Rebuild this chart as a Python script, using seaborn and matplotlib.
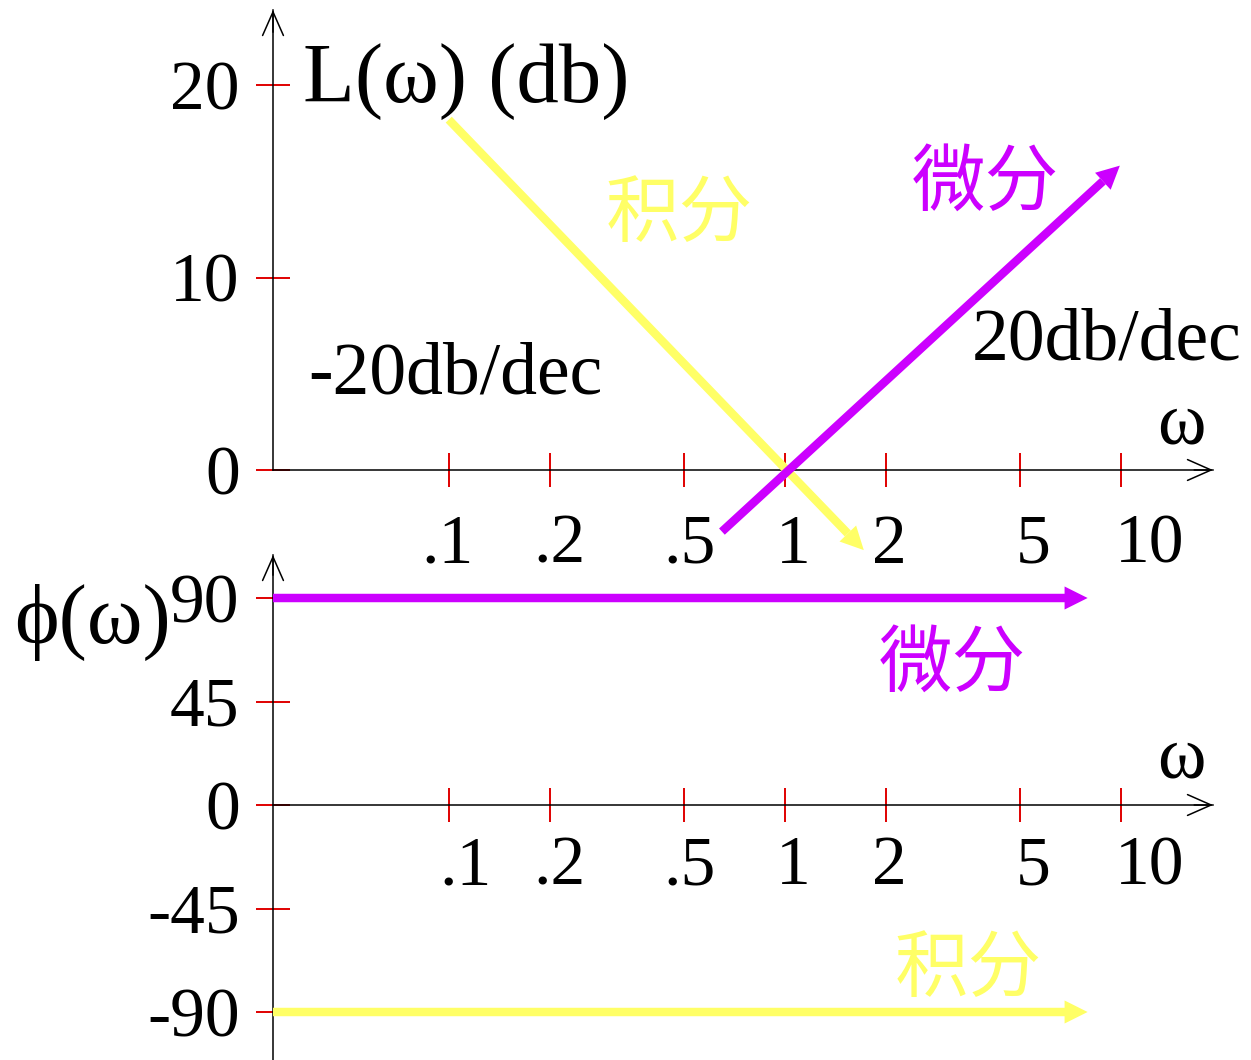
import numpy as np
import matplotlib
matplotlib.use("Agg")
import matplotlib.pyplot as plt
from matplotlib.ticker import FixedLocator, FixedFormatter, NullFormatter
import seaborn as sns

# ---- data ---------------------------------------------------------------
freq_ticks = [0.1, 0.2, 0.5, 1, 2, 5, 10]
freq_labels = [".1", ".2", ".5", "1", "2", "5", "10"]
# where each frequency label is centred (slightly right of its tick)
mag_label_pos = [0.099, 0.214, 0.52, 1.06, 2.05, 5.5, 12.2]
ph_label_pos = [0.112, 0.214, 0.52, 1.06, 2.05, 5.5, 12.2]

# magnitude panel (dB)
mag_ticks = [0, 10, 20]
integ_w = [0.1, 1.54]
integ_L = [18.2, -3.3]
diff_w = [0.65, 8.84]
diff_L = [-3.2, 15.0]
slope_db = 20

# phase panel (deg)
phase_ticks = [-90, -45, 0, 45, 90]
phase_w = [0.03, 6.8]
diff_phase = [90, 90]
integ_phase = [-90, -90]

# ---- style --------------------------------------------------------------
W, H = 1251, 1060
YELLOW = "#FFFF66"
PURPLE = "#CC00FF"
TICK_RED = "#E00000"
INK = "black"
SERIF = ["Liberation Serif", "DejaVu Serif"]
CJK = ["Noto Sans CJK SC", "DejaVu Sans"]

sns.set_theme(style="white")
plt.rcParams["font.family"] = SERIF
plt.rcParams["text.color"] = INK
plt.rcParams["xtick.labelcolor"] = INK
plt.rcParams["ytick.labelcolor"] = INK

fig = plt.figure(figsize=(W / 100, H / 100), dpi=100)


def fx(px):
    return px / W


def fy(py):
    return 1 - py / H


W_MIN, W_MAX = 0.03, 18.8
LINE_W = 6.1          # pt
HEAD_L, HEAD_W = 16.6, 8.3   # pt (length, half width)
TICK_LEN = 24

ax_mag = fig.add_axes([fx(273), fy(565), fx(1213) - fx(273), (565 - 10) / H])
ax_ph = fig.add_axes([fx(273), 0.0, fx(1213) - fx(273), (1060 - 555) / H])

mag_lim = (-(565 - 470) / 19.25, (470 - 10) / 19.25)
ph_lim = (-(1060 - 805) / 2.3, (805 - 555) / 2.3)


def style_axes(ax, ylim, yticks, label_pos, xpad, left_bounds=None):
    ax.set_xscale("log")
    ax.set_xlim(W_MIN, W_MAX)
    ax.set_ylim(*ylim)
    ax.patch.set_alpha(0)
    for s in ("top", "right"):
        ax.spines[s].set_visible(False)
    for s in ("left", "bottom"):
        ax.spines[s].set_color(INK)
        ax.spines[s].set_linewidth(1.1)
    ax.spines["bottom"].set_position(("data", 0))
    if left_bounds is not None:
        ax.spines["left"].set_bounds(*left_bounds)
    # red tick marks on the major ticks, labels carried by unmarked minor ticks
    ax.xaxis.remove_overlapping_locs = False
    ax.xaxis.set_major_locator(FixedLocator(freq_ticks))
    ax.xaxis.set_major_formatter(NullFormatter())
    ax.xaxis.set_minor_locator(FixedLocator(label_pos))
    ax.xaxis.set_minor_formatter(FixedFormatter(freq_labels))
    ax.set_yticks(yticks)
    ax.set_yticklabels([str(t) for t in yticks])
    ax.tick_params(axis="both", which="major", direction="inout",
                   length=TICK_LEN, width=1.4, color=TICK_RED,
                   bottom=True, left=True, labelsize=50, labelcolor=INK)
    ax.tick_params(axis="x", which="minor", length=0, bottom=True,
                   labelsize=50, labelcolor=INK, pad=xpad + TICK_LEN / 2)
    ax.tick_params(axis="y", which="minor", left=False)
    ax.tick_params(axis="y", pad=12)
    ax.grid(False)
    ax.set_xlabel("")
    ax.set_ylabel("")
    # open arrow heads at the ends of both axes
    arrow = dict(arrowstyle="->,head_length=17,head_width=7.5", mutation_scale=1,
                 color=INK, lw=1.1, shrinkA=0, shrinkB=0)
    ax.annotate("", xy=(1, 0), xycoords=("axes fraction", "data"),
                xytext=(0.98, 0), textcoords=("axes fraction", "data"),
                arrowprops=arrow)
    ax.annotate("", xy=(0, 1), xycoords="axes fraction",
                xytext=(0, 0.96), textcoords="axes fraction",
                arrowprops=arrow)


style_axes(ax_mag, mag_lim, mag_ticks, mag_label_pos, xpad=20,
           left_bounds=(0, mag_lim[1]))
style_axes(ax_ph, ph_lim, phase_ticks, ph_label_pos, xpad=10)


def arrow_line(ax, xs, ys, color):
    sns.lineplot(x=xs, y=ys, ax=ax, color=color, lw=LINE_W,
                 solid_capstyle="butt", zorder=3, sort=False)
    # filled head placed beyond the last point, along the line direction
    p0 = ax.transData.transform((xs[0], ys[0]))
    p1 = ax.transData.transform((xs[-1], ys[-1]))
    u = (p1 - p0) / np.hypot(*(p1 - p0))
    tip = ax.transData.inverted().transform(p1 + u * HEAD_L * fig.dpi / 72)
    ax.annotate("", xy=tuple(tip), xytext=(xs[0], ys[0]),
                arrowprops=dict(arrowstyle=f"-|>,head_length={HEAD_L},head_width={HEAD_W}",
                                mutation_scale=1, color=color, lw=0,
                                shrinkA=0, shrinkB=0),
                zorder=3)


arrow_line(ax_mag, integ_w, integ_L, YELLOW)
arrow_line(ax_mag, diff_w, diff_L, PURPLE)
arrow_line(ax_ph, phase_w, integ_phase, YELLOW)
arrow_line(ax_ph, phase_w, diff_phase, PURPLE)

# ---- labels -------------------------------------------------------------
fig.text(fx(303), fy(102), "L(ω) (db)", fontsize=61, ha="left", va="baseline",
         family=SERIF, color=INK)
fig.text(fx(308), fy(394), f"-{slope_db}db/dec", fontsize=53, ha="left",
         va="baseline", family=SERIF, color=INK)
fig.text(fx(972), fy(360), f"{slope_db}db/dec", fontsize=53, ha="left",
         va="baseline", family=SERIF, color=INK)
fig.text(fx(1181), fy(443), "ω", fontsize=53, ha="center", va="baseline",
         family=SERIF, color=INK)
fig.text(fx(1181), fy(778), "ω", fontsize=53, ha="center", va="baseline",
         family=SERIF, color=INK)
fig.text(fx(14), fy(643), "ϕ(ω)", fontsize=61, ha="left", va="baseline",
         family=SERIF, color=INK)

fig.text(fx(679), fy(215), "积分", fontsize=53, ha="center", va="center",
         color=YELLOW, family=CJK)
fig.text(fx(985), fy(184), "微分", fontsize=53, ha="center", va="center",
         color=PURPLE, family=CJK)
fig.text(fx(952), fy(665), "微分", fontsize=53, ha="center", va="center",
         color=PURPLE, family=CJK)
fig.text(fx(968), fy(970), "积分", fontsize=53, ha="center", va="center",
         color=YELLOW, family=CJK)

fig.savefig("out.png", dpi=100, facecolor="white")
